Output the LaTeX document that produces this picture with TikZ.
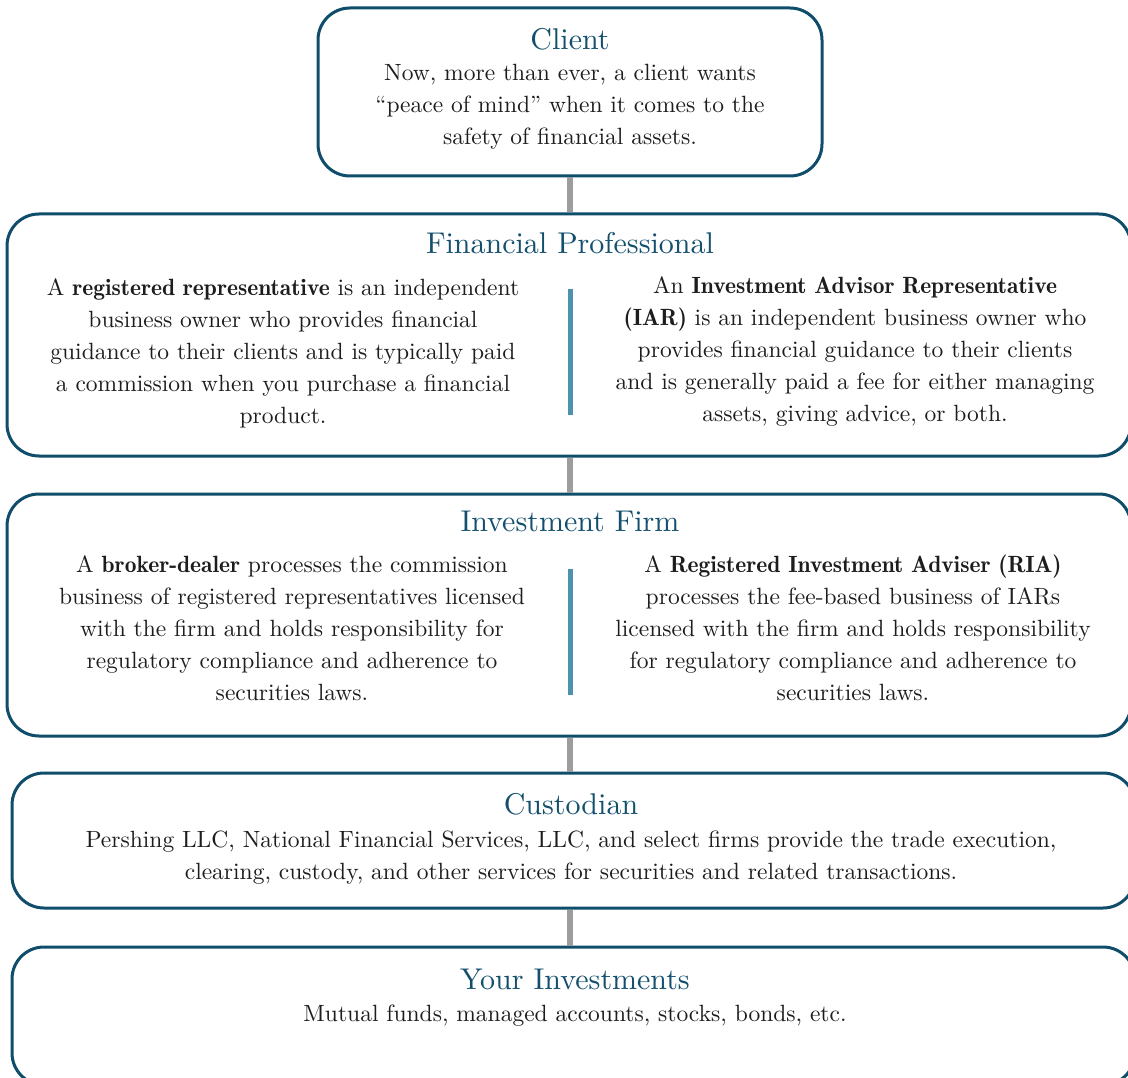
\documentclass[tikz,border=0pt]{standalone}
\usepackage{fontspec}
\setmainfont{lmroman10-regular.otf}[BoldFont=lmromandemi10-regular.otf]
\usepackage{xcolor}
\usepackage{tikz}
\usetikzlibrary{positioning,calc}

\definecolor{frame}{HTML}{0F4D6B}
\definecolor{heading}{HTML}{14506E}
\definecolor{bar}{HTML}{4B93AD}
\definecolor{stem}{HTML}{9D9D9D}
\definecolor{ink}{HTML}{1E1C1D}

\begin{document}
\begin{tikzpicture}[x=1pt, y=1pt,
    panel/.style={draw=frame, line width=3pt, rounded corners=32pt, fill=white, inner sep=0pt},
    title/.style={text=heading, font=\fontsize{30}{36}\selectfont},
    body/.style={text=ink, align=center, font=\fontsize{23.5}{32}\selectfont},
    link/.style={draw=stem, line width=5.5pt},
    divider/.style={draw=bar, line width=5pt}]
    \useasboundingbox (0,0) rectangle (1128,-1078);

    % Boxes
    \node [panel, minimum width=504pt, minimum height=168pt] (client) at (570,-92) {};
    \node [panel, minimum width=1124pt, minimum height=242pt] (prof) at (569,-335) {};
    \node [panel, minimum width=1124pt, minimum height=242pt] (firm) at (569,-615) {};
    \node [panel, minimum width=1123pt, minimum height=135pt] (cust) at (573.5,-840.5) {};
    \node [panel, minimum width=1123pt, minimum height=138pt] (invest) at (573.5,-1016) {};

    % Stems between boxes
    \foreach \a/\b in {client/prof, prof/firm, firm/cust, cust/invest}
        \draw [link] (\a.south -| 570,0) -- (\b.north -| 570,0);

    % Column dividers
    \draw [divider] (570,-289) -- (570,-415);
    \draw [divider] (570,-569) -- (570,-695);

    % Client
    \node [title] (clientT) at (570,-39) {Client};
    \node [body] (clientB) at (570,-107) {Now, more than ever, a client wants\\
        ``peace of mind'' when it comes to the\\ safety of financial assets.};

    % Financial Professional
    \node [title] (profT) at (570,-243) {Financial Professional};
    \node [body] (profL) at (283,-353) {A \textbf{registered representative} is an independent\\
        business owner who provides financial\\ guidance to their clients and is typically paid\\
        a commission when you purchase a financial\\ product.};
    \node [body] (profR) at (855,-352) {An \textbf{Investment Advisor Representative}\\
        \textbf{(IAR)} is an independent business owner who\\ provides financial guidance to their clients\\
        and is generally paid a fee for either managing\\ assets, giving advice, or both.};

    % Investment Firm
    \node [title] (firmT) at (570,-521) {Investment Firm};
    \node [body] (firmL) at (292,-628) {A \textbf{broker-dealer} processes the commission\\
        business of registered representatives licensed\\ with the firm and holds responsibility for\\
        regulatory compliance and adherence to\\ securities laws.};
    \node [body] (firmR) at (853,-628) {A \textbf{Registered Investment Adviser (RIA)}\\
        processes the fee-based business of IARs\\ licensed with the firm and holds responsibility\\
        for regulatory compliance and adherence to\\ securities laws.};

    % Custodian
    \node [title] (custT) at (571,-804) {Custodian};
    \node [body] (custB) at (571,-858) {Pershing LLC, National Financial Services, LLC, and select firms provide the trade execution,\\
        clearing, custody, and other services for securities and related transactions.};

    % Your Investments
    \node [title] (investT) at (575,-979) {Your Investments};
    \node [body] (investB) at (575,-1016) {Mutual funds, managed accounts, stocks, bonds, etc.};
\end{tikzpicture}
\end{document}
